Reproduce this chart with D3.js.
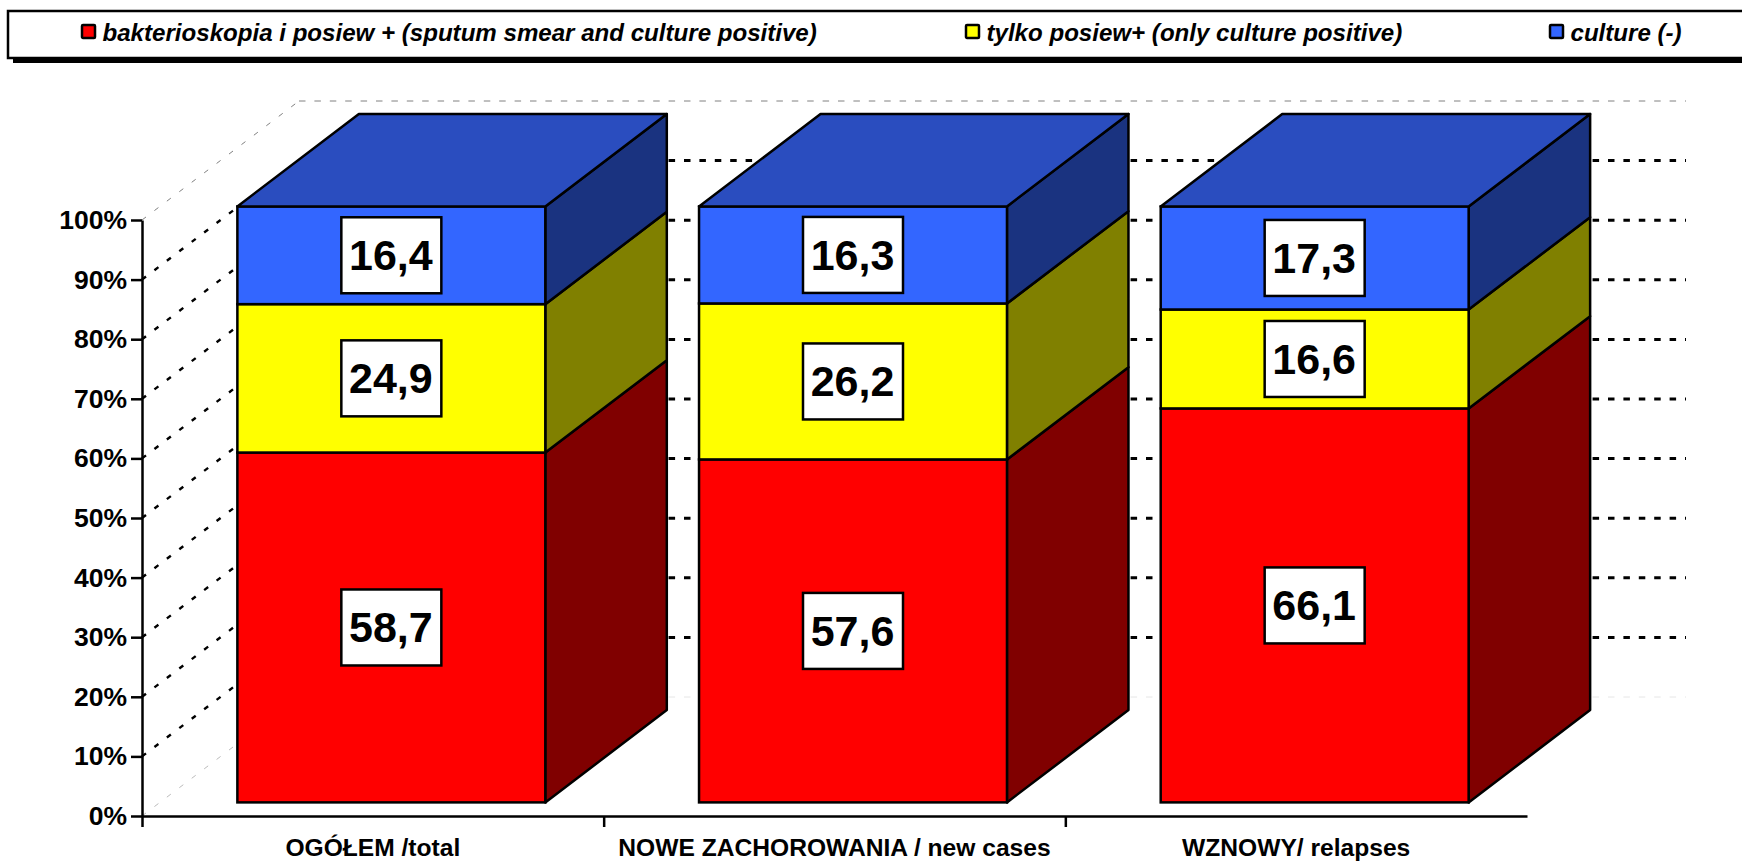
<!DOCTYPE html>
<html>
<head>
<meta charset="utf-8">
<script src="https://d3js.org/d3.v7.min.js"></script>
<style>
	html, body { margin: 0; padding: 0; background: #fff; }
	svg { display: block; }
	text { font-family: "Liberation Sans", Arial, sans-serif; font-weight: bold; fill: #000; }
</style>
</head>
<body>
<div id="chart"></div>
<script>

var categories = ['OGÓŁEM /total', 'NOWE ZACHOROWANIA / new cases', 'WZNOWY/ relapses'];
var seriesNames = ['bakterioskopia i posiew + (sputum smear and culture positive)', 'tylko posiew+ (only culture positive)', 'culture (-)'];
var smearAndCulture = [58.7, 57.6, 66.1];
var onlyCulture = [24.9, 26.2, 16.6];
var cultureNegative = [16.4, 16.3, 17.3];
var yTicks = [0, 0.1, 0.2, 0.3, 0.4, 0.5, 0.6, 0.7, 0.8, 0.9, 1];

var frontColors = ['#ff0000', '#ffff00', '#3366ff'];
var sideColors = ['#800000', '#808000', '#1a3380'];
var topColor = '#2a4dbf';

var svgWidth = 1742;
var svgHeight = 861;
var plotLeft = 142;
var plotRight = 1527;
var plotBottom = 816;
var plotTop = 220;

// depth of the floor, the box starts a bit in front of the back wall
var wallDx = 157;
var wallDy = 119;
var barOffsetX = 18.5;
var barOffsetY = 13.6;
var barDx = 121.5;
var barDy = 92.3;

var svg = d3.select('#chart').append('svg')
	.attr('width', svgWidth)
	.attr('height', svgHeight);

var rows = categories.map(function(c, i) {
	return {category: c, a: smearAndCulture[i], b: onlyCulture[i], c: cultureNegative[i]};
});

var stacked = d3.stack().keys(['a', 'b', 'c']).offset(d3.stackOffsetExpand)(rows);

var x = d3.scaleBand().domain(categories).range([plotLeft, plotRight]).paddingInner(0.333).paddingOuter(0.1665);
var y = d3.scaleLinear().domain([0, 1]).range([plotBottom, plotTop]);

drawLegend();
drawWalls();
drawAxes();
drawBars();

function drawLegend() {
	var legendX = [81, 965, 1549];
	var legend = svg.append('g').attr('class', 'legend');

	legend.append('rect')
		.attr('x', 13).attr('y', 57)
		.attr('width', svgWidth - 13).attr('height', 6)
		.style('fill', '#000');

	legend.append('rect')
		.attr('x', 8).attr('y', 11)
		.attr('width', svgWidth).attr('height', 47)
		.style('fill', '#fff')
		.style('stroke', '#000')
		.style('stroke-width', 2.5);

	var item = legend.selectAll('.item')
		.data(seriesNames)
		.enter()
		.append('g')
		.attr('class', 'item')
		.attr('transform', function(d, i) { return 'translate(' + legendX[i] + ',0)'; });

	item.append('rect')
		.attr('x', 1).attr('y', 25)
		.attr('width', 13).attr('height', 13)
		.attr('rx', 1)
		.style('fill', function(d, i) { return frontColors[i]; })
		.style('stroke', '#000')
		.style('stroke-width', 2.5);

	item.append('text')
		.attr('x', 21.5)
		.attr('y', 41)
		.style('font-size', '24.1px')
		.style('font-style', 'italic')
		.text(function(d) { return d; });
}

function drawWalls() {
	var walls = svg.append('g').attr('class', 'walls');

	// the first and last grid lines are only faint in the picture
	function gridColor(d) {
		if (d === 0) return '#e6e6e6';
		if (d === 1) return '#808080';
		return '#000';
	}
	function gridWidth(d) {
		return (d === 0 || d === 1) ? 1 : 3;
	}

	walls.selectAll('.side-grid')
		.data(yTicks)
		.enter()
		.append('line')
		.attr('class', 'side-grid')
		.attr('x1', plotLeft)
		.attr('y1', function(d) { return y(d); })
		.attr('x2', plotLeft + wallDx)
		.attr('y2', function(d) { return y(d) - wallDy; })
		.style('stroke', function(d) { return d === 0 ? '#bbb' : gridColor(d); })
		.style('stroke-width', function(d) { return (d === 0 || d === 1) ? 1 : 2.4; })
		.style('stroke-dasharray', '5 10.6');

	walls.selectAll('.back-grid')
		.data(yTicks)
		.enter()
		.append('line')
		.attr('class', 'back-grid')
		.attr('x1', plotLeft + wallDx)
		.attr('y1', function(d) { return y(d) - wallDy; })
		.attr('x2', plotRight + wallDx + 2)
		.attr('y2', function(d) { return y(d) - wallDy; })
		.style('stroke', gridColor)
		.style('stroke-width', gridWidth)
		.style('stroke-dasharray', '6.5 8.9');
}

function drawAxes() {
	var yAxis = d3.axisLeft(y)
		.tickValues(yTicks)
		.tickSize(11)
		.tickSizeOuter(0)
		.tickPadding(4)
		.tickFormat(d3.format('.0%'));

	var gy = svg.append('g')
		.attr('class', 'y-axis')
		.attr('transform', 'translate(' + plotLeft + ',0)')
		.call(yAxis);

	gy.selectAll('text').style('font-size', '26.5px').style('font-family', '"Liberation Sans", Arial, sans-serif');
	gy.selectAll('line, path').style('stroke', '#000').style('stroke-width', 2.5);

	// ticks sit between the groups, so they are a second scale
	var boundary = d3.scaleLinear().domain([0, categories.length]).range([plotLeft, plotRight]);

	var xTicks = d3.axisBottom(boundary)
		.tickValues(d3.range(categories.length))
		.tickSize(11)
		.tickSizeOuter(0)
		.tickFormat('');

	var gx = svg.append('g')
		.attr('class', 'x-axis')
		.attr('transform', 'translate(0,' + plotBottom + ')')
		.call(xTicks);

	gx.selectAll('line, path').style('stroke', '#000').style('stroke-width', 2.5);

	var slot = d3.scaleBand().domain(categories).range([plotLeft, plotRight]);

	svg.selectAll('.cat-label')
		.data(categories)
		.enter()
		.append('text')
		.attr('class', 'cat-label')
		.attr('x', function(d) { return slot(d) + slot.bandwidth() / 2; })
		.attr('y', 856)
		.style('text-anchor', 'middle')
		.style('font-size', '24.6px')
		.text(function(d) { return d; });
}

function drawBars() {
	var labelW = 100;
	var labelH = 76;
	var bars = svg.append('g').attr('class', 'bars');

	function x0(d) { return x(d.data.category) + barOffsetX; }
	function x1(d) { return x0(d) + x.bandwidth(); }
	function yOf(v) { return y(v) - barOffsetY; }

	categories.forEach(function(cat, c) {
		var g = bars.append('g').attr('class', 'bar');

		stacked.forEach(function(layer, s) {
			var d = layer[c];

			g.append('path')
				.attr('d', 'M' + x1(d) + ',' + yOf(d[0]) +
					'L' + (x1(d) + barDx) + ',' + (yOf(d[0]) - barDy) +
					'L' + (x1(d) + barDx) + ',' + (yOf(d[1]) - barDy) +
					'L' + x1(d) + ',' + yOf(d[1]) + 'Z')
				.style('fill', sideColors[s])
				.style('stroke', '#000')
				.style('stroke-width', 2.5)
				.style('stroke-linejoin', 'round');

			g.append('rect')
				.attr('x', x0(d))
				.attr('y', yOf(d[1]))
				.attr('width', x.bandwidth())
				.attr('height', yOf(d[0]) - yOf(d[1]))
				.style('fill', frontColors[s])
				.style('stroke', '#000')
				.style('stroke-width', 2.5);

			if (s === stacked.length - 1) {
				g.append('path')
					.attr('d', 'M' + x0(d) + ',' + yOf(d[1]) +
						'L' + (x0(d) + barDx) + ',' + (yOf(d[1]) - barDy) +
						'L' + (x1(d) + barDx) + ',' + (yOf(d[1]) - barDy) +
						'L' + x1(d) + ',' + yOf(d[1]) + 'Z')
					.style('fill', topColor)
					.style('stroke', '#000')
					.style('stroke-width', 2.5)
					.style('stroke-linejoin', 'round');
			}
		});

		// labels go on top of all three segments
		stacked.forEach(function(layer) {
			var d = layer[c];
			var cx = x0(d) + x.bandwidth() / 2;
			var cy = (yOf(d[0]) + yOf(d[1])) / 2;

			g.append('rect')
				.attr('x', cx - labelW / 2)
				.attr('y', cy - labelH / 2)
				.attr('width', labelW)
				.attr('height', labelH)
				.style('fill', '#fff')
				.style('stroke', '#000')
				.style('stroke-width', 2.5);

			g.append('text')
				.attr('x', cx - 0.5)
				.attr('y', cy + 15)
				.style('text-anchor', 'middle')
				.style('font-size', '43px')
				.text(String(d.data[layer.key]).replace('.', ','));
		});
	});
}

</script>
</body>
</html>
